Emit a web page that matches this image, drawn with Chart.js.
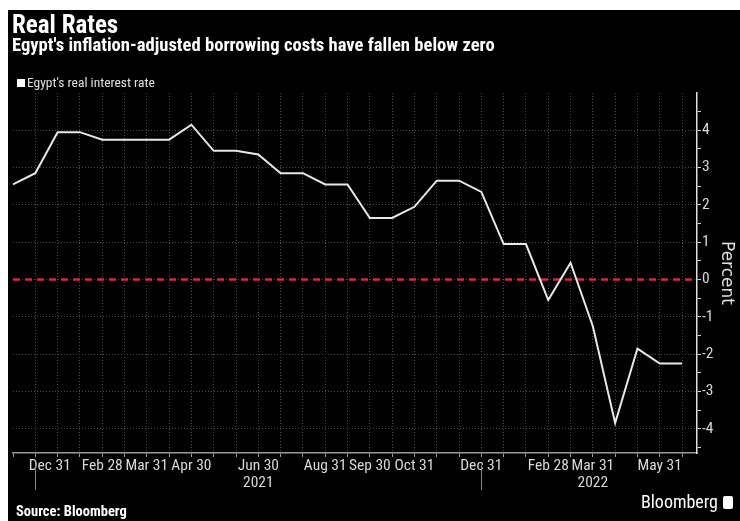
<!DOCTYPE html>
<html>
<head>
<meta charset="utf-8">
<script src="https://cdn.jsdelivr.net/npm/chart.js@4.4.1/dist/chart.umd.min.js"></script>
<style>
  html, body { margin: 0; padding: 0; background: #fff; }
  #frame { position: absolute; left: 8px; top: 10px; width: 732px; height: 511px; background: #000; overflow: hidden; }
  #plot { position: absolute; left: 0; top: 0; }
  .txt { position: absolute; color: #fff; white-space: nowrap; line-height: 1;
         font-family: "Roboto Condensed", sans-serif; }
  #title { left: 4px; top: 2px; font-size: 25px; font-weight: bold; }
  #subtitle { left: 4px; top: 26px; font-size: 18.6px; font-weight: bold; }
  #legend { left: 9px; top: 66px; font-size: 13.5px; color: #e0e0e0; }
  #legend i { display: inline-block; width: 8px; height: 8px; background: #fff; margin-right: 2px; }
  #source { left: 8px; top: 495px; font-size: 14.5px; font-weight: bold; }
  #brand { right: 7px; top: 483px; font-size: 18px; }
  #brand b { display: inline-block; width: 10px; height: 13px; margin-left: 5px; background: #fff; border-radius: 2px; vertical-align: -1px; }
</style>
</head>
<body>
<div id="frame">
  <canvas id="plot" width="732" height="511"></canvas>
  <div class="txt" id="title">Real Rates</div>
  <div class="txt" id="subtitle">Egypt's inflation-adjusted borrowing costs have fallen below zero</div>
  <div class="txt" id="legend"><i></i><span id="legendText"></span></div>
  <div class="txt" id="source">Source: Bloomberg</div>
  <div class="txt" id="brand">Bloomberg<b></b></div>
</div>
<script>
const seriesName = "Egypt's real interest rate";

// one value per observation, in percent
const rates = [2.55, 2.85, 3.95, 3.95, 3.75, 3.75, 3.75, 3.75, 4.15, 3.45, 3.45,
               3.35, 2.85, 2.85, 2.55, 2.55, 1.65, 1.65, 1.95, 2.65, 2.65, 2.35,
               0.95, 0.95, -0.55, 0.45, -1.25, -3.85, -1.85, -2.25, -2.25];

// date labels shown under the observations ('' = unlabelled)
const tickLabels = ['', 'Dec 31', '', '', 'Feb 28', '', 'Mar 31', '', 'Apr 30', '', '',
                    'Jun 30', '', '', 'Aug 31', '', 'Sep 30', '', 'Oct 31', '', '',
                    'Dec 31', '', '', 'Feb 28', '', 'Mar 31', '', '', 'May 31', ''];
const yearLabels = { 11: '2021', 26: '2022' };

const yTicks = [-4, -3, -2, -1, 0, 1, 2, 3, 4];
const zeroLine = 0;

document.getElementById('legendText').textContent = seriesName;

const FONT = '"Roboto Condensed", sans-serif';
const GRID = '#4a4a4a';

// red dashed reference line at zero + year separators under the axis
const extras = {
  id: 'extras',
  beforeDatasetsDraw(chart) {
    const { ctx, chartArea, scales } = chart;
    const y = scales.y.getPixelForValue(zeroLine);
    ctx.save();
    ctx.strokeStyle = '#e2203f';
    ctx.lineWidth = 2.5;
    ctx.setLineDash([7, 5]);
    ctx.beginPath();
    ctx.moveTo(chartArea.left, y);
    ctx.lineTo(chartArea.right, y);
    ctx.stroke();
    ctx.restore();
  },
  afterDraw(chart) {
    const { ctx, chartArea, scales } = chart;
    ctx.save();
    ctx.strokeStyle = '#8a8a8a';
    ctx.lineWidth = 1;
    tickLabels.forEach((l, i) => {
      if (!l.startsWith('Dec')) return;
      const x = Math.round(scales.x.getPixelForValue(i)) + 0.5;
      ctx.beginPath();
      ctx.moveTo(x, chartArea.bottom + 12);
      ctx.lineTo(x, chartArea.bottom + 37);
      ctx.stroke();
    });
    ctx.restore();
  }
};

new Chart(document.getElementById('plot'), {
  type: 'line',
  data: {
    datasets: [{
      label: seriesName,
      data: rates.map((v, i) => ({ x: i, y: v })),
      borderColor: '#e8e8e8',
      borderWidth: 2,
      pointRadius: 0,
      tension: 0
    }]
  },
  options: {
    responsive: false,
    animation: false,
    layout: { padding: { left: 5, right: 0, top: 83, bottom: 23 } },
    plugins: { legend: { display: false }, tooltip: { enabled: false } },
    scales: {
      x: {
        type: 'linear',
        min: 0,
        max: 30.67,
        afterBuildTicks(scale) {
          const ticks = rates.map((v, i) => ({ value: i, text: '' }));
          tickLabels.forEach((l, i) => {
            if (!l) return;
            // first label sits a bit right, clear of the frame edge
            const at = i === 1 ? i + 0.65 : i;
            const text = yearLabels[i] ? [l, yearLabels[i]] : l;
            if (at === i) ticks[i].text = text;
            else ticks.push({ value: at, text: text, moved: true });
          });
          scale.ticks = ticks;
        },
        afterFit(scale) { scale.height = 45; },
        ticks: {
          autoSkip: false,
          maxRotation: 0,
          padding: 1,
          color: '#d8d8d8',
          font: { family: FONT, size: 15.5, lineHeight: 1.1 },
          callback: (v, i, ticks) => ticks[i].text
        },
        grid: {
          color: c => (c.tick && (c.tick.moved || c.tick.value === 0)) ? 'rgba(0,0,0,0)' : GRID,
          tickColor: c => (c.tick && c.tick.moved) ? 'rgba(0,0,0,0)' : '#9a9a9a',
          tickLength: 4,
          lineWidth: 1
        },
        border: { color: '#9a9a9a', width: 1.5, dash: [1, 2] }
      },
      y: {
        position: 'right',
        min: -4.65,
        max: 5,
        afterBuildTicks(scale) {
          // whole-percent labels with unlabelled half-steps between them
          const ticks = [{ value: yTicks[0] - 0.5 }];
          yTicks.forEach(t => {
            ticks.push({ value: t, major: true });
            ticks.push({ value: t + 0.5 });
          });
          scale.ticks = ticks;
        },
        afterFit(scale) { scale.width = 43; },
        ticks: {
          autoSkip: false,
          padding: 1,
          color: '#d8d8d8',
          font: { family: FONT, size: 15.5 },
          callback: v => Number.isInteger(v) ? String(v) : ''
        },
        grid: {
          color: c => (c.tick && Number.isInteger(c.tick.value)) ? GRID : 'rgba(0,0,0,0)',
          tickColor: '#d0d0d0',
          tickLength: 4,
          lineWidth: 1
        },
        border: { color: '#e0e0e0', width: 1.5, dash: [1, 2] },
        title: {
          display: true,
          text: 'Percent',
          color: '#e0e0e0',
          font: { family: '"DejaVu Sans", sans-serif', size: 17 },
          padding: { top: 3, bottom: 0 }
        }
      }
    }
  },
  plugins: [extras]
});
</script>
</body>
</html>
